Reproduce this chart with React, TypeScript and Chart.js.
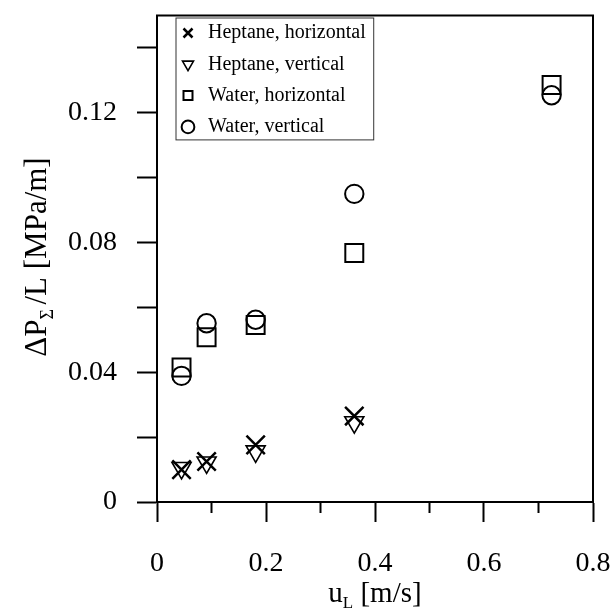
import React, { useEffect, useRef } from 'react';
import { Chart, registerables } from 'chart.js';

Chart.register(...registerables);

// liquid velocity u_L [m/s]
const uL = [0.045, 0.091, 0.181, 0.362, 0.724];
// pressure gradient dP/L [MPa/m]
const heptaneHorizontal = [0.0100, 0.0125, 0.0176, 0.0265];
const heptaneVertical = [0.0105, 0.0122, 0.0156, 0.0246];
const waterHorizontal = [0.0415, 0.0508, 0.0546, 0.0768, 0.1286];
const waterVertical = [0.0389, 0.0551, 0.0562, 0.0950, 0.1254];

const seriesLabels = ['Heptane, horizontal', 'Heptane, vertical', 'Water, horizontal', 'Water, vertical'];
const xMinorTicks = [0.1, 0.3, 0.5, 0.7];

const serif = "'Liberation Serif', 'Times New Roman', serif";

const toPoints = (ys: number[]) => ys.map((y, i) => ({ x: uL[i], y }));

// draws a title made of pieces, some of them subscripts
const drawParts = (ctx: CanvasRenderingContext2D, parts: { t: string; size: number; dy: number }[]) => {
  let total = 0;
  parts.forEach((p) => {
    ctx.font = `${p.size}px ${serif}`;
    total += ctx.measureText(p.t).width;
  });
  let x = -total / 2;
  parts.forEach((p) => {
    ctx.font = `${p.size}px ${serif}`;
    ctx.fillText(p.t, x, p.dy);
    x += ctx.measureText(p.t).width;
  });
};

const decorations = {
  id: 'decorations',
  afterLayout(chart: any) {
    // legend sits inside the plot, a bit away from the corner
    const lg = chart.legend;
    if (lg) {
      lg.left += 9.7;
      lg.right += 9.7;
      lg.top += 11.7;
      lg.bottom += 11.7;
    }
  },
  afterDraw(chart: any) {
    const { ctx, chartArea } = chart;
    const xs = chart.scales.x;
    ctx.save();
    ctx.strokeStyle = '#000';
    ctx.fillStyle = '#000';
    ctx.lineWidth = 2;
    ctx.strokeRect(chartArea.left, chartArea.top, chartArea.right - chartArea.left, chartArea.bottom - chartArea.top);

    // minor ticks on x
    xMinorTicks.forEach((v) => {
      const px = xs.getPixelForValue(v);
      ctx.beginPath();
      ctx.moveTo(px, chartArea.bottom);
      ctx.lineTo(px, chartArea.bottom + 11);
      ctx.stroke();
    });

    // legend frame
    const boxes = chart.legend?.legendHitBoxes || [];
    if (boxes.length) {
      const l = Math.min(...boxes.map((b: any) => b.left)) - 2;
      const t = Math.min(...boxes.map((b: any) => b.top)) - 5;
      const r = Math.max(...boxes.map((b: any) => b.left + b.width)) + 8;
      const b2 = Math.max(...boxes.map((b: any) => b.top + b.height)) + 3;
      ctx.lineWidth = 1;
      ctx.strokeStyle = '#333';
      ctx.strokeRect(l, t, r - l, b2 - t);
    }

    // axis titles
    ctx.textBaseline = 'alphabetic';
    ctx.save();
    ctx.translate(46, 257);
    ctx.rotate(-Math.PI / 2);
    drawParts(ctx, [
      { t: 'ΔP', size: 31, dy: 0 },
      { t: 'Σ ', size: 18, dy: 7 },
      { t: '/L [MPa/m]', size: 31, dy: 0 },
    ]);
    ctx.restore();

    ctx.save();
    ctx.translate(375, 602);
    drawParts(ctx, [
      { t: 'u', size: 29, dy: 0 },
      { t: 'L', size: 17, dy: 6 },
      { t: ' [m/s]', size: 29, dy: 0 },
    ]);
    ctx.restore();
    ctx.restore();
  },
};

const App = () => {
  const canvasRef = useRef<HTMLCanvasElement>(null);

  useEffect(() => {
    document.body.style.margin = '0';
    if (!canvasRef.current) return;
    const chart = new Chart(canvasRef.current, {
      type: 'scatter',
      data: {
        datasets: [
          {
            label: seriesLabels[0],
            data: toPoints(heptaneHorizontal),
            pointStyle: 'crossRot',
            pointRadius: 13,
            borderWidth: 2.5,
            borderColor: '#000',
            backgroundColor: 'transparent',
          },
          {
            label: seriesLabels[1],
            data: toPoints(heptaneVertical),
            pointStyle: 'triangle',
            rotation: 180,
            pointRadius: 11,
            borderWidth: 1.6,
            borderColor: '#000',
            backgroundColor: 'transparent',
          },
          {
            label: seriesLabels[2],
            data: toPoints(waterHorizontal),
            pointStyle: 'rect',
            pointRadius: 12.7,
            borderWidth: 2,
            borderColor: '#000',
            backgroundColor: 'transparent',
          },
          {
            label: seriesLabels[3],
            data: toPoints(waterVertical),
            pointStyle: 'circle',
            pointRadius: 9.2,
            borderWidth: 2,
            borderColor: '#000',
            backgroundColor: 'transparent',
          },
        ],
      },
      options: {
        responsive: false,
        animation: false,
        events: [],
        layout: { padding: { top: 10, right: 21, left: 0, bottom: 0 } },
        plugins: {
          tooltip: { enabled: false },
          legend: {
            position: 'chartArea' as any,
            align: 'start',
            labels: {
              usePointStyle: true,
              boxWidth: 20,
              boxHeight: 9,
              padding: 11.3,
              color: '#000',
              font: { family: serif, size: 20 },
            },
          },
        },
        scales: {
          x: {
            type: 'linear',
            min: 0,
            max: 0.8,
            afterFit: (s: any) => {
              s.height = 112;
              s.paddingLeft = 0;
              s.paddingRight = 0;
            },
            border: { display: true, color: '#000', width: 2 },
            grid: { drawOnChartArea: false, drawTicks: true, tickLength: 20, tickWidth: 2, tickColor: '#000' },
            ticks: {
              stepSize: 0.2,
              padding: 25,
              color: '#000',
              maxRotation: 0,
              font: { family: serif, size: 28 },
              callback: (v: any) => (Number(v) === 0 ? '0' : Number(v).toFixed(1)),
            },
          },
          y: {
            type: 'linear',
            min: 0,
            max: 0.15,
            afterFit: (s: any) => {
              s.width = 157;
              s.paddingTop = 0;
              s.paddingBottom = 0;
            },
            border: { display: true, color: '#000', width: 2 },
            grid: { drawOnChartArea: false, drawTicks: true, tickLength: 20, tickWidth: 2, tickColor: '#000' },
            ticks: {
              stepSize: 0.02,
              includeBounds: false,
              padding: 20,
              color: '#000',
              font: { family: serif, size: 28 },
              callback: (v: any) => {
                const n = Math.round(Number(v) * 100);
                if (n % 4 !== 0) return '';
                return n === 0 ? '0' : Number(v).toFixed(2);
              },
            },
          },
        },
      },
      plugins: [decorations],
    });
    return () => {
      chart.destroy();
    };
  }, []);

  return (
    <div style={{ width: 614, height: 614 }}>
      <canvas ref={canvasRef} width={614} height={614} style={{ display: 'block' }}></canvas>
    </div>
  );
};

export default App;
